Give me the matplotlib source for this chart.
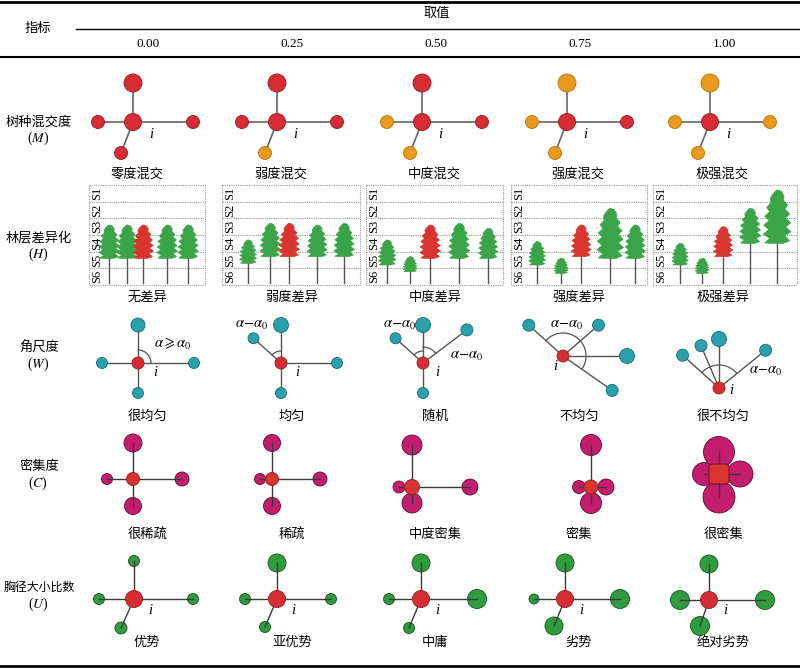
import numpy as np
import matplotlib
matplotlib.use("Agg")
import matplotlib.pyplot as plt
from matplotlib.patches import Circle, Polygon, FancyBboxPatch

plt.rcParams['font.family'] = ['Liberation Serif', 'Noto Sans CJK SC']
plt.rcParams['mathtext.fontset'] = 'stix'

# ---------------- datos ----------------
col_values = ['0.00', '0.25', '0.50', '0.75', '1.00']
col_x = [148, 292, 436, 580, 724]

row_names = ['树种混交度', '林层差异化', '角尺度', '密集度', '胸径大小比数']
row_symbols = ['M', 'H', 'W', 'C', 'U']
row_y = [122, 238, 348, 467, 588]

m_labels = ['零度混交', '弱度混交', '中度混交', '强度混交', '极强混交']
h_labels = ['无差异', '弱度差异', '中度差异', '强度差异', '极强差异']
w_labels = ['很均匀', '均匀', '随机', '不均匀', '很不均匀']
c_labels = ['很稀疏', '稀疏', '中度密集', '密集', '很密集']
u_labels = ['优势', '亚优势', '中庸', '劣势', '绝对劣势']
label_x = [147, 292, 435, 579, 723]
m_label_x = [137, 281, 434, 578, 722]

# M: vecinos (arriba, izquierda, derecha, abajo-izq)
m_cx = [133, 277, 422, 567, 710]
m_cy = 122
m_dx = [0, -35, 60, -12]
m_dy = [-39, 0, 0, 31]
m_r = [9, 6.5, 6.5, 6.5]
m_colors = [['R', 'R', 'R', 'R'],
            ['R', 'R', 'R', 'O'],
            ['R', 'O', 'R', 'O'],
            ['O', 'O', 'R', 'O'],
            ['O', 'O', 'O', 'O']]

# H: árboles (alturas en número de estratos, 0 = suelo, 6 = tope)
h_box_left = [89, 222, 366, 511, 653]
h_box_right = [205, 360, 503, 647, 797]
tree_x = [[109, 127, 143, 167, 188],
          [248, 270, 289, 317, 344],
          [387, 410, 430, 459, 488],
          [537, 561, 581, 610, 635],
          [680, 702, 723, 750, 777]]
tree_top = [[3.6, 3.6, 3.6, 3.6, 3.6],
            [2.7, 3.7, 3.7, 3.6, 3.7],
            [2.7, 1.7, 3.6, 3.7, 3.4],
            [2.6, 1.6, 3.6, 4.6, 3.6],
            [2.5, 1.6, 3.5, 4.6, 5.7]]
tree_base = [[1.6, 1.6, 1.6, 1.6, 1.6],
             [1.3, 1.7, 1.7, 1.7, 1.7],
             [1.2, 0.8, 1.6, 1.6, 1.6],
             [1.2, 0.7, 1.7, 1.6, 1.6],
             [1.2, 0.7, 1.7, 2.5, 2.5]]
layers = ['S1', 'S2', 'S3', 'S4', 'S5', 'S6']

# W: vecinos por ángulo (grados), distancia y radio
w_center = [(138, 363), (281, 363), (423, 363), (563, 356), (719, 388)]
w_ang = [[90, 180, 0, 270], [90, 138, 0, 270], [90, 138, 37, 270],
         [138, 41, 0, -35], [138, 113, 90, 39]]
w_dist = [[38, 36, 56, 30], [38, 37, 56, 30], [38, 37, 55, 30],
          [46, 47, 64, 60], [49, 46, 49, 60]]
w_r = [[7, 5.5, 5.5, 5.5], [7.5, 5.5, 5.5, 5.5], [7.5, 5.5, 6, 5.5],
       [6, 6, 7.5, 6], [6, 6, 7.5, 6]]
w_arcs = [[(0, 90, 13)], [(90, 138, 12)], [(90, 138, 12), (37, 90, 16)],
          [(-35, 138, 23)], [(39, 138, 23)]]
w_arc_text = [[(r'$\alpha\geqslant\alpha_0$', 173, 343)],
              [(r'$\alpha\!-\!\alpha_0$', 252, 325)],
              [(r'$\alpha\!-\!\alpha_0$', 400, 325), (r'$\alpha\!-\!\alpha_0$', 467, 356)],
              [(r'$\alpha\!-\!\alpha_0$', 567, 325)],
              [(r'$\alpha\!-\!\alpha_0$', 766, 371)]]
w_i_off = [(17, 9), (16, 9), (14, 9), (-8, 11), (12, 2)]

# C: vecinos (arriba, izquierda, derecha, abajo)
c_center = [(133, 479), (272, 479), (412, 487), (591, 487), (719, 474)]
c_center_r = [6.5, 6.5, 7.5, 7, 10]
c_dx = [[0, -26, 49, 0], [0, -12, 48, 0], [0, -13, 58, 0], [0, -12, 15, 0], [0, -15, 21, 0]]
c_dy = [[-36, 0, 0, 27], [-36, 0, 0, 27], [-42, 0, 0, 16], [-42, 0, 0, 16], [-22, 0, 0, 23]]
c_r = [[9, 5.5, 7, 8.5], [8.5, 5.5, 7, 8.5], [10, 6, 8, 10],
       [10.5, 6.5, 8, 10.5], [15.5, 11.5, 13, 16]]

# U: vecinos (arriba, izquierda, derecha, abajo-izq)
u_center = [(134, 599), (277, 599), (421, 599), (565, 599), (709, 600)]
u_dx = [[0, -35, 59, -13], [0, -32, 54, -12], [0, -32, 56, -12], [0, -31, 55, -11], [0, -29, 56, -9]]
u_dy = [[-38, 0, 0, 29], [-36, 0, 0, 28], [-36, 0, 0, 29], [-36, 0, 0, 27], [-36, 0, 0, 26]]
u_r = [[5.5, 5.5, 5.5, 6], [9, 5.5, 5.5, 5.5], [9, 5.5, 9.5, 5.5],
       [9, 5, 9.5, 9], [9, 9.5, 9.5, 9.5]]

# colores
RED, RED_E = '#d62d35', '#9a1a20'
ORANGE, ORANGE_E = '#e99a1d', '#b5740f'
TEAL, TEAL_E = '#2aa0ad', '#1b6a73'
MAG, MAG_E = '#c41d6e', '#5e0b33'
GREEN, GREEN_E = '#2f9c3d', '#154f1d'
TREE_G, TREE_R = '#3aa548', '#d8352f'

# perfil de la copa (ancho relativo por piso)
crown_profile = [0.5, 0.75, 0.9, 0.97, 1.0, 0.9]


def node(ax, x, y, r, face, edge, z=3):
    ax.add_patch(Circle((x, y), r, facecolor=face, edgecolor=edge, lw=0.6, zorder=z))


def crown(ax, cx, top, bot, color):
    h = bot - top
    hw = 4.5 + 0.18 * h
    n = len(crown_profile)
    dh = h / n
    right = [(cx + 0.5, top)]
    left = [(cx - 0.5, top)]
    for j, p in enumerate(crown_profile):
        right.append((cx + p * hw * 0.62, top + dh * (j + 0.15)))
        right.append((cx + p * hw, top + dh * (j + 0.7)))
        left.append((cx - p * hw * 0.58, top + dh * (j + 0.45)))
        left.append((cx - p * hw * 0.97, top + dh * (j + 0.95)))
    right.append((cx + hw * 0.45, bot))
    left.append((cx - hw * 0.45, bot))
    ax.add_patch(Polygon(right + left[::-1], closed=True, facecolor=color,
                         edgecolor=color, lw=0.5, zorder=3))


fig = plt.figure(figsize=(8, 6.69), dpi=100)
ax = fig.add_axes([0, 0, 1, 1])
ax.set_xlim(0, 800)
ax.set_ylim(669, 0)
ax.axis('off')

fs = 9.5

# ---------------- cabecera ----------------
ax.plot([0, 800], [1.5, 1.5], color='black', lw=2)
ax.plot([76, 800], [29, 29], color='black', lw=1)
ax.plot([0, 800], [57, 57], color='black', lw=1.5)
ax.plot([0, 800], [666, 666], color='black', lw=2)
ax.text(38, 29, '指标', ha='center', va='center', fontsize=fs)
ax.text(437, 14, '取值', ha='center', va='center', fontsize=fs)
for x, v in zip(col_x, col_values):
    ax.text(x, 44, v, ha='center', va='center', fontsize=fs)

for name, sym, y in zip(row_names, row_symbols, row_y):
    size = fs if len(name) < 6 else 8.6
    ax.text(39, y, name, ha='center', va='center', fontsize=size)
    ax.text(38, y + 16, '($%s$)' % sym, ha='center', va='center', fontsize=fs + 0.5)

# ---------------- M ----------------
col_m = {'R': (RED, RED_E), 'O': (ORANGE, ORANGE_E)}
for k, cx in enumerate(m_cx):
    for dx, dy, r, c in zip(m_dx, m_dy, m_r, m_colors[k]):
        ax.plot([cx, cx + dx], [m_cy, m_cy + dy], color='#666666', lw=1.2, zorder=1)
        node(ax, cx + dx, m_cy + dy, r, *col_m[c], z=2)
    node(ax, cx, m_cy, 8.5, RED, RED_E)
    ax.text(cx + 18, m_cy + 13, 'i', style='italic', ha='center', va='center', fontsize=10.5)
    ax.text(m_label_x[k], 174, m_labels[k], ha='center', va='center', fontsize=fs)

# ---------------- H ----------------
box_top, box_bot = 185, 285
lh = (box_bot - box_top) / 6
dot = dict(color='#9a9a9a', lw=0.8, ls=(0, (1, 1)), zorder=1)
for k in range(5):
    x0, x1 = h_box_left[k], h_box_right[k]
    for j in range(7):
        y = box_top + j * lh
        ax.plot([x0, x1], [y, y], **dot)
    ax.plot([x0, x0], [box_top, box_bot], **dot)
    ax.plot([x1, x1], [box_top, box_bot], **dot)
    for j, s in enumerate(layers):
        ax.text(x0 + 8.5, box_top + (j + 0.5) * lh, s, rotation=90, ha='center', va='center',
                fontsize=9, zorder=4)
    for t, (tx, tt, tb) in enumerate(zip(tree_x[k], tree_top[k], tree_base[k])):
        ytop = box_bot - tt * lh
        ybot = box_bot - tb * lh
        ax.plot([tx, tx], [ytop + (ybot - ytop) * 0.5, box_bot - 2], color='#555555', lw=1.0, zorder=2)
        crown(ax, tx, ytop, ybot, TREE_R if t == 2 else TREE_G)
    ax.text(label_x[k], 298, h_labels[k], ha='center', va='center', fontsize=fs)

# ---------------- W ----------------
for k, (cx, cy) in enumerate(w_center):
    for a, d, r in zip(w_ang[k], w_dist[k], w_r[k]):
        nx = cx + d * np.cos(np.radians(a))
        ny = cy - d * np.sin(np.radians(a))
        ax.plot([cx, nx], [cy, ny], color='#555555', lw=1.0, zorder=1)
        node(ax, nx, ny, r, TEAL, TEAL_E, z=2)
    for a0, a1, rr in w_arcs[k]:
        th = np.radians(np.linspace(a0, a1, 60))
        ax.plot(cx + rr * np.cos(th), cy - rr * np.sin(th), color='#555555', lw=0.9, zorder=1)
    for s, tx, ty in w_arc_text[k]:
        ax.text(tx, ty, s, ha='center', va='center', fontsize=10.5)
    node(ax, cx, cy, 6, RED, RED_E)
    ox, oy = w_i_off[k]
    ax.text(cx + ox, cy + oy, 'i', style='italic', ha='center', va='center', fontsize=10.5)
    ax.text(label_x[k], 417, w_labels[k], ha='center', va='center', fontsize=fs)

# ---------------- C ----------------
for k, (cx, cy) in enumerate(c_center):
    for dx, dy, r in zip(c_dx[k], c_dy[k], c_r[k]):
        node(ax, cx + dx, cy + dy, r, MAG, MAG_E, z=1)
    for dx, dy in zip(c_dx[k], c_dy[k]):
        ax.plot([cx, cx + dx], [cy, cy + dy], color='#3a3a3a', lw=1.0, zorder=2)
    if k == 4:
        s = c_center_r[k]
        ax.add_patch(FancyBboxPatch((cx - s + 3, cy - s + 3), 2 * s - 6, 2 * s - 6,
                                    boxstyle='round,pad=3', facecolor='#d9342f',
                                    edgecolor=MAG_E, lw=0.6, zorder=3))
    else:
        node(ax, cx, cy, c_center_r[k], '#d9342f', RED_E)
    ax.text(label_x[k], 535, c_labels[k], ha='center', va='center', fontsize=fs)

# ---------------- U ----------------
for k, (cx, cy) in enumerate(u_center):
    for dx, dy, r in zip(u_dx[k], u_dy[k], u_r[k]):
        node(ax, cx + dx, cy + dy, r, GREEN, GREEN_E, z=1)
        ax.plot([cx, cx + dx], [cy, cy + dy], color='#3a3a3a', lw=1.0, zorder=2)
    node(ax, cx, cy, 8.5, RED, RED_E)
    ax.text(cx + 16, cy + 11, 'i', style='italic', ha='center', va='center', fontsize=10.5)
    ax.text(label_x[k], 643, u_labels[k], ha='center', va='center', fontsize=fs)

fig.savefig('out.png', dpi=100)
